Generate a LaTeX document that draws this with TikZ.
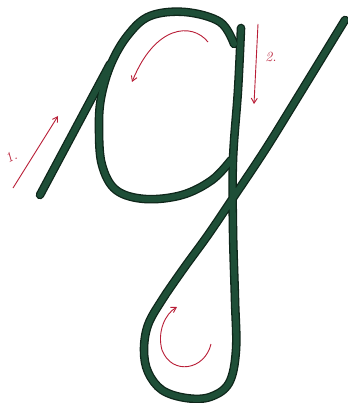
\documentclass[tikz,border=0pt]{standalone}
\usetikzlibrary{arrows.meta}
\definecolor{inkgreen}{RGB}{30,78,55}
\definecolor{inkdark}{RGB}{14,38,26}
\definecolor{inkred}{RGB}{185,30,55}
\begin{document}
\begin{tikzpicture}[x=1pt,y=-1pt,
  outline/.style={line width=8.6pt, draw=inkdark, line cap=round, line join=round},
  inner/.style={line width=6pt, draw=inkgreen, line cap=round, line join=round},
  redarrow/.style={draw=inkred, line width=0.9pt, -{Straight Barb[length=5pt,width=6pt]}},
  lbl/.style={text=inkred, font=\itshape\fontsize{14}{14}\selectfont, inner sep=0pt}]
\useasboundingbox[fill=white] (0,0) rectangle (347,403);
\def\leadin{(40,195) -- (110,64)}
\def\bowl{plot[smooth,tension=0.6] coordinates {(234,44) (220,22) (185,12) (150,16) (128,35) (111,64) (101,98) (99,130) (102,165) (116,190) (145,199) (182,195) (212,180) (231,160)}}
\def\stem{plot[smooth,tension=0.6] coordinates {(241,28) (238,90) (233,160) (233,230) (235,300) (236,350) (229,383) (210,397) (186,398) (162,390) (148,372) (144,350) (148,325) (162,300) (184,268) (208,235) (233,198) (265,150) (296,100) (345,20)}}
% outlines
\draw[outline] \leadin;
\draw[outline] \bowl;
\draw[outline] \stem;
% green fill strokes
\draw[inner] \leadin;
\draw[inner] \bowl;
\draw[inner] \stem;
% red direction arrows
\coordinate (a1s) at (13,188);
\coordinate (a1e) at (58,116);
\draw[redarrow] (a1s) -- (a1e);
\node[lbl, rotate=30] (l1) at (11,157) {1.};
\coordinate (a2s) at (258,24);
\coordinate (a2e) at (254,104);
\draw[redarrow] (a2s) -- (a2e);
\node[lbl] (l2) at (271,57) {2.};
\coordinate (a3s) at (208,42);
\coordinate (a3e) at (132,82);
\draw[redarrow] (a3s) .. controls (192,22) and (155,25) .. (a3e);
\coordinate (a4s) at (211,344);
\coordinate (a4e) at (177,307);
\draw[redarrow] (a4s) .. controls (205,370) and (172,376) .. (162,350) .. controls (157,332) and (165,314) .. (a4e);
\end{tikzpicture}
\end{document}
